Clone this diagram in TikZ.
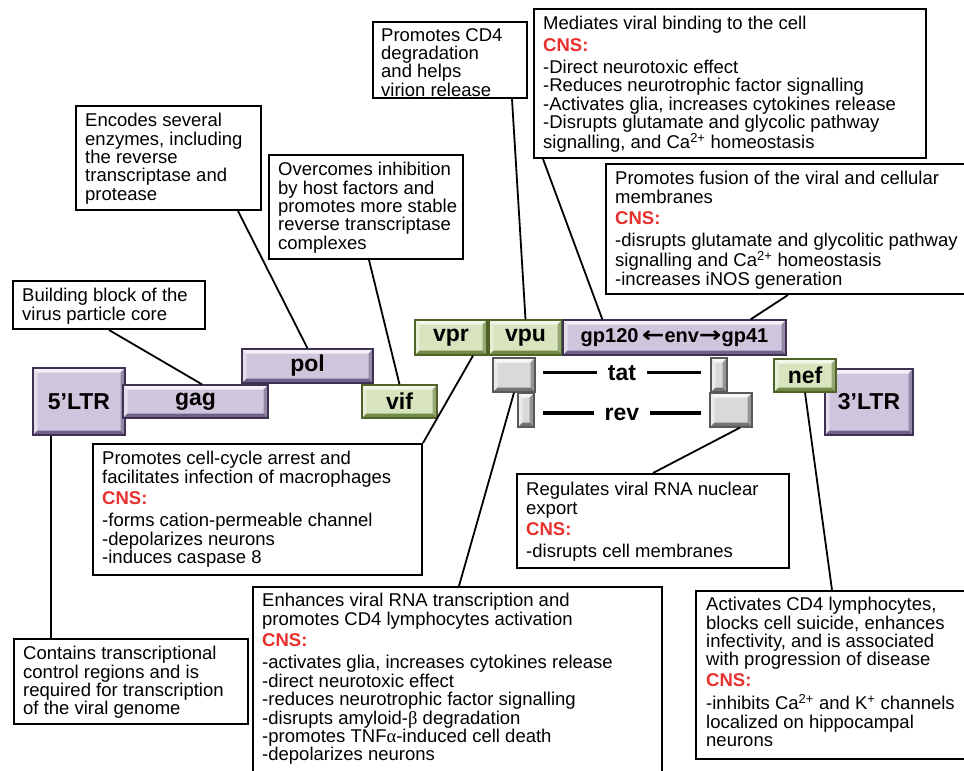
\documentclass[tikz,border=0pt]{standalone}
\usepackage{fontspec}
\usepackage{graphicx}
\setmainfont{Liberation Sans}
\newfontfamily\symfont{Liberation Serif}
\newfontfamily\arrowfont{DejaVu Sans}
\usetikzlibrary{calc}
\definecolor{pface}{HTML}{CFC6DE}
\definecolor{ptop}{HTML}{F3F0F7}
\definecolor{pleft}{HTML}{E4DEEC}
\definecolor{pbot}{HTML}{6F6188}
\definecolor{pright}{HTML}{9184A8}
\definecolor{pbord}{HTML}{3F3151}
\definecolor{gface}{HTML}{D7E4BD}
\definecolor{gtop}{HTML}{F3F7EA}
\definecolor{gleft}{HTML}{E6EED5}
\definecolor{gbot}{HTML}{728A46}
\definecolor{gright}{HTML}{95AC6B}
\definecolor{gbord}{HTML}{4F6228}
\definecolor{yface}{HTML}{D9D9D9}
\definecolor{ytop}{HTML}{F7F7F7}
\definecolor{yleft}{HTML}{EBEBEB}
\definecolor{ybot}{HTML}{737373}
\definecolor{yright}{HTML}{999999}
\definecolor{ybord}{HTML}{595959}
\definecolor{cnsred}{HTML}{E8302C}
\newcommand\cnsline{\textcolor{cnsred}{\bfseries CNS:}}
\newcommand\larr{{\arrowfont\bfseries\scalebox{1.35}[1.1]{←}}}
\newcommand\rarr{{\arrowfont\bfseries\scalebox{1.35}[1.1]{→}}}
\tikzset{
  bev/.style n args={5}{fill=#1, draw=#5, line width=1.3pt, inner sep=0pt,
    font=\bfseries\fontsize{23}{23}\selectfont,
    path picture={
      \coordinate (bvnw) at (path picture bounding box.north west);
      \coordinate (bvse) at (path picture bounding box.south east);
      \coordinate (bvne) at (bvnw -| bvse);
      \coordinate (bvsw) at (bvse -| bvnw);
      \fill[#3] (bvnw) -- ([shift={(4.5pt,-4.5pt)}]bvnw) -- ([shift={(4.5pt,4.5pt)}]bvsw) -- (bvsw) -- cycle;
      \fill[#2] (bvnw) -- (bvne) -- ([shift={(-4.5pt,-4.5pt)}]bvne) -- ([shift={(4.5pt,-4.5pt)}]bvnw) -- cycle;
      \fill[#4!75!white] (bvne) -- (bvse) -- ([shift={(-4.5pt,4.5pt)}]bvse) -- ([shift={(-4.5pt,-4.5pt)}]bvne) -- cycle;
      \fill[#4] (bvsw) -- (bvse) -- ([shift={(-4.5pt,4.5pt)}]bvse) -- ([shift={(4.5pt,4.5pt)}]bvsw) -- cycle;
    }},
  purp/.style={bev={pface}{ptop}{pleft}{pbot}{pbord}},
  grn/.style={bev={gface}{gtop}{gleft}{gbot}{gbord}},
  gry/.style={bev={yface}{ytop}{yleft}{ybot}{ybord}},
  tbox/.style={draw, line width=2pt, fill=white, inner sep=0pt, anchor=north west},
  txt/.style={anchor=north west, inner sep=0pt, align=left, font=\fontsize{18.5}{18.4}\selectfont},
  conn/.style={line width=1.8pt, black},
  tline/.style={line width=3.2pt, black},
  lbl/.style={anchor=base, inner xsep=10.5pt, inner ysep=0pt, font=\bfseries\fontsize{23}{23}\selectfont},
}
\begin{document}
\begin{tikzpicture}[x=1pt,y=-1pt]
\useasboundingbox (0,0) rectangle (964,771);
\clip (0,0) rectangle (964,771);
\fill[white] (0,0) rectangle (964,771);

% genes
\node[purp, minimum width=92pt, minimum height=67pt] (ltr5) at (79,401.5) {5’LTR};
\node[purp, minimum width=145pt, minimum height=33pt] (gag) at (195.5,401.5) {gag};
\node[purp, minimum width=131pt, minimum height=34pt] (pol) at (307.5,366) {pol};
\node[grn, minimum width=75pt, minimum height=33pt] (vif) at (399.5,401.5) {vif};
\node[grn, minimum width=72pt, minimum height=35pt] (vpr) at (451,337.5) {vpr};
\node[grn, minimum width=73pt, minimum height=35pt] (vpu) at (525.5,337.5) {vpu};
\node[purp, minimum width=223pt, minimum height=35pt, font=\bfseries\fontsize{20}{20}\selectfont] (env) at (674.5,337.5) {gp120\,\larr env\rarr gp41};
\node[gry, minimum width=42pt, minimum height=34pt] (tatL) at (514,375) {};
\node[gry, minimum width=16pt, minimum height=34pt] (revL) at (526,410) {};
\node[gry, minimum width=16pt, minimum height=34pt] (tatR) at (719,375) {};
\node[gry, minimum width=42pt, minimum height=34pt] (revR) at (731,410) {};
\node[purp, minimum width=88pt, minimum height=66pt] (ltr3) at (869,402) {3’LTR};
\node[grn, minimum width=62pt, minimum height=33pt] (nef) at (805,375.5) {nef};

\node[lbl] (tatlbl) at (622,380.5) {tat};
\node[lbl] (revlbl) at (622,420.5) {rev};
\coordinate (tatw) at ([yshift=8pt]tatlbl.base west);
\coordinate (tate) at ([yshift=8pt]tatlbl.base east);
\coordinate (revw) at ([yshift=7.5pt]revlbl.base west);
\coordinate (reve) at ([yshift=7.5pt]revlbl.base east);
\draw[tline, shorten >=7pt] (tatw) -- (tatw -| tatL.east);
\draw[tline, shorten >=9pt] (tate) -- (tate -| tatR.west);
\draw[tline, shorten >=8pt] (revw) -- (revw -| revL.east);
\draw[tline, shorten >=8pt] (reve) -- (reve -| revR.west);

% boxes
\node[tbox, minimum width=192pt, minimum height=48pt] (B_gag) at (12,280) {};
\node[tbox, minimum width=185pt, minimum height=104pt] (B_pol) at (75,105) {};
\node[tbox, minimum width=194pt, minimum height=104pt] (B_vif) at (268,154) {};
\node[tbox, minimum width=154pt, minimum height=76pt] (B_vpu) at (372,21) {};
\node[tbox, minimum width=392pt, minimum height=149pt] (B_gp120) at (533,8) {};
\node[tbox, minimum width=361pt, minimum height=130pt] (B_gp41) at (605,163) {};
\node[tbox, minimum width=329pt, minimum height=131pt] (B_vpr) at (92,443) {};
\node[tbox, minimum width=409pt, minimum height=190pt] (B_tat) at (252,586) {};
\node[tbox, minimum width=272pt, minimum height=94pt] (B_rev) at (516,473) {};
\node[tbox, minimum width=271pt, minimum height=168pt] (B_nef) at (695,590) {};
\node[tbox, minimum width=234pt, minimum height=85pt] (B_ltr) at (13,638) {};

\node[txt] (T_gag) at ([shift={(10pt,-8pt)}]B_gag.north west) {Building block of the\\virus particle core};
\node[txt] (T_pol) at ([shift={(10pt,-8pt)}]B_pol.north west) {Encodes several\\enzymes, including\\the reverse\\transcriptase and\\protease};
\node[txt] (T_vif) at ([shift={(10pt,-8pt)}]B_vif.north west) {Overcomes inhibition\\by host factors and\\promotes more stable\\reverse transcriptase\\complexes};
\node[txt] (T_vpu) at ([shift={(9pt,-7pt)}]B_vpu.north west) {Promotes CD4\\degradation\\and helps\\virion release};
\node[txt] (T_gp120) at ([shift={(10pt,-8pt)}]B_gp120.north west) {Mediates viral binding to the cell\\[3pt]\cnsline\\[4pt]-Direct neurotoxic effect\\-Reduces neurotrophic factor signalling\\-Activates glia, increases cytokines release\\-Disrupts glutamate and glycolic pathway\\signalling, and Ca\textsuperscript{2+} homeostasis};
\node[txt] (T_gp41) at ([shift={(10pt,-8pt)}]B_gp41.north west) {Promotes fusion of the viral and cellular\\membranes\\[3pt]\cnsline\\[4pt]-disrupts glutamate and glycolitic pathway\\signalling and Ca\textsuperscript{2+} homeostasis\\-increases iNOS generation};
\node[txt] (T_vpr) at ([shift={(10pt,-8pt)}]B_vpr.north west) {Promotes cell-cycle arrest and\\facilitates infection of macrophages\\[3pt]\cnsline\\[4pt]-forms cation-permeable channel\\-depolarizes neurons\\-induces caspase 8};
\node[txt] (T_tat) at ([shift={(10pt,-7pt)}]B_tat.north west) {Enhances viral RNA transcription and\\promotes CD4 lymphocytes activation\\[3pt]\cnsline\\[4pt]-activates glia, increases cytokines release\\-direct neurotoxic effect\\-reduces neurotrophic factor signalling\\-disrupts amyloid-{\symfont β} degradation\\-promotes TNF{\symfont α}-induced cell death\\-depolarizes neurons};
\node[txt] (T_rev) at ([shift={(10pt,-9pt)}]B_rev.north west) {Regulates viral RNA nuclear\\export\\[3pt]\cnsline\\[4pt]-disrupts cell membranes};
\node[txt] (T_nef) at ([shift={(11pt,-7pt)}]B_nef.north west) {Activates CD4 lymphocytes,\\blocks cell suicide, enhances\\infectivity, and is associated\\with progression of disease\\[2pt]\cnsline\\[5pt]-inhibits Ca\textsuperscript{2+} and K\textsuperscript{+} channels\\localized on hippocampal\\neurons};
\node[txt] (T_ltr) at ([shift={(10pt,-8pt)}]B_ltr.north west) {Contains transcriptional\\control regions and is\\required for transcription\\of the viral genome};

% connectors
\draw[conn] (B_gag.south) -- ([xshift=6.5pt]gag.north);
\draw[conn] ([xshift=69.5pt]B_pol.south) -- (pol.north);
\draw[conn] ([xshift=3pt]B_vif.south) -- (vif.north);
\draw[conn] ([xshift=62pt]B_vpu.south) -- (vpu.north);
\draw[conn] ([xshift=10pt]B_gp120.south west) -- ([xshift=40pt]env.north west);
\draw[conn] ([xshift=1.5pt]B_gp41.south) -- ([xshift=-36pt]env.north east);
\draw[conn] ([xshift=22pt]vpr.south) -- (B_vpr.north east);
\draw[conn] (tatL.south) -- ([xshift=1.5pt]B_tat.north);
\draw[conn] ([xshift=9pt]revR.south) -- (B_rev.north);
\draw[conn] (nef.south) -- ([xshift=137pt]B_nef.north west);
\coordinate (ltrfoot) at ([xshift=19pt]ltr5.south west);
\draw[conn] (ltrfoot) -- (ltrfoot |- B_ltr.north);
\end{tikzpicture}
\end{document}
